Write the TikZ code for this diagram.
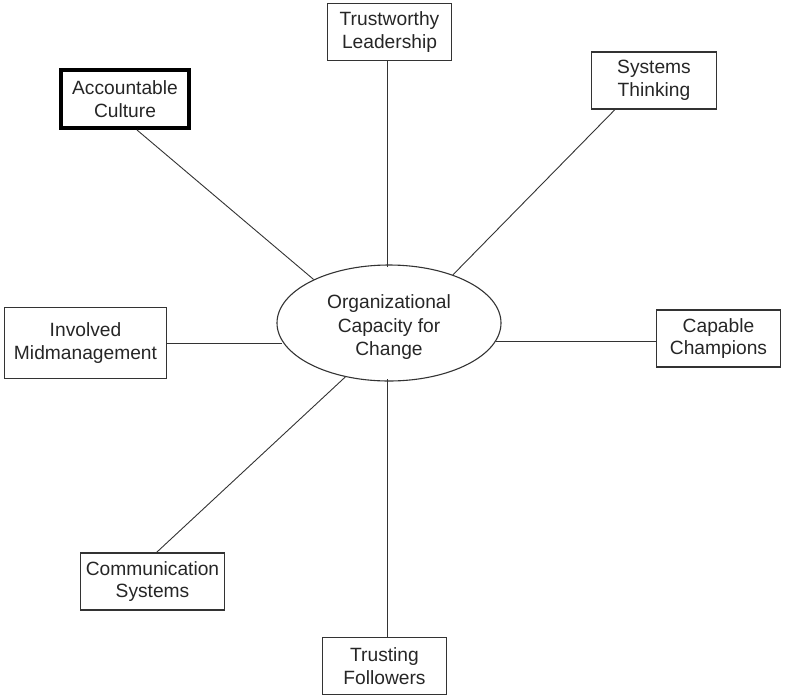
\documentclass[tikz,border=0pt]{standalone}
\usepackage{fontspec}
\setmainfont{Liberation Sans}
\usetikzlibrary{shapes.geometric}
\begin{document}
\begin{tikzpicture}[x=1pt,y=-1pt,
  every node/.style={font=\fontsize{19.2}{22.5}\selectfont, align=center, text=black!85},
  box/.style={draw=black!80, line width=1.1pt, rectangle, inner sep=0pt, minimum width=#1, minimum height=57pt},
  box/.default=124pt,
  thickbox/.style={draw=black, line width=4pt, rectangle, inner sep=0pt, minimum width=128pt, minimum height=58pt},
  hub/.style={draw=black!80, line width=1.1pt, ellipse, inner sep=0pt, minimum width=224pt, minimum height=116pt},
  link/.style={draw=black!80, line width=0.9pt}]
\useasboundingbox (0,0) rectangle (787,699);
\node[hub] (ell) at (389,323) {\raisebox{-10pt}[0pt][0pt]{\begin{tabular}{@{}c@{}}Organizational\\[1pt]Capacity for\\[1pt]Change\end{tabular}}};
\node[box] (tl) at (389.5,32) {Trustworthy\\Leadership};
\node[thickbox] (ac) at (125,99) {Accountable\\Culture};
\node[box=125pt] (st) at (654,80.5) {Systems\\Thinking};
\node[box=162pt, minimum height=71pt] (im) at (85.5,343) {Involved\\Midmanagement};
\node[box] (cc) at (718.5,338.5) {Capable\\Champions};
\node[box=144pt] (cs) at (152.5,581.5) {Communication\\Systems};
\node[box] (tf) at (384.5,666) {Trusting\\Followers};
\coordinate (topend) at (387,267);
\coordinate (botend) at (387,379);
\draw[link] (topend) -- (topend |- tl.south);
\draw[link] (botend) -- (botend |- tf.north);
\draw[link] ([xshift=12pt]ac.south) -- (ell.150);
\draw[link] ([xshift=-39pt]st.south) -- (ell.37);
\draw[link] ([xshift=4pt]cs.north) -- (ell.231);
\draw[link] (im.east) -- (im.east -| ell.190);
\draw[link] (ell.350) -- (ell.350 -| cc.west);
\end{tikzpicture}
\end{document}
